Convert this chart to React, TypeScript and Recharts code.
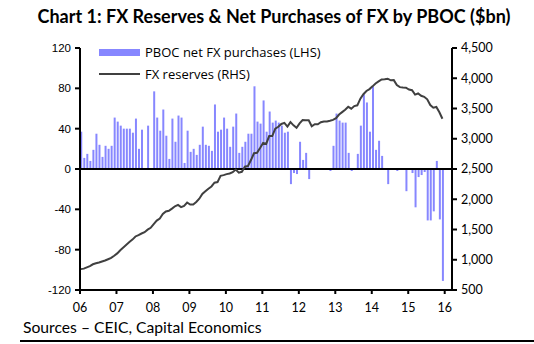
import {
  Bar,
  ComposedChart,
  Line,
  ReferenceLine,
  XAxis,
  YAxis,
} from 'recharts';

// x-axis year labels, one per January
const yearLabels = ['06', '07', '08', '09', '10', '11', '12', '13', '14', '15', '16'];

// PBOC net FX purchases, $bn, monthly Jan 2006 - Dec 2015 (LHS)
const netPurchases = [
  37, 11, 15, 8, 19, 35, 24, 12, 23, 20, 23, 51,
  47, 43, 40, 40, 40, 36, 50, 20, 39, 0, 43, 1,
  77, 51, 38, 59, 33, 10, 50, 27, 53, 51, 6, 38,
  17, 20, 14, 24, 42, 24, 23, 18, 64, 37, 39, 51,
  40, 22, 42, 55, 16, 22, 27, 35, 35, 82, 47, 45,
  68, 37, 57, 46, 48, 46, 43, 36, 37, -15, -4, -5,
  27, 9, 16, -10, 0, 0, 0, 0, 0, 0, -2, 23,
  55, 48, 46, 46, 16, -2, 0, 15, 43, 74, 66, 37,
  82, 19, 28, 13, 0, -15, 0, 0, -2, 0, 0, -22,
  0, -4, -38, -8, -6, -3, -51, -51, -42, 8, -50, -111,
];

// FX reserves, $bn, monthly Jan 2006 - Dec 2015 (RHS)
const fxReserves = [
  845, 853, 875, 895, 925, 941, 954, 972, 988, 1009, 1030, 1066,
  1105, 1158, 1202, 1246, 1292, 1333, 1385, 1408, 1434, 1455, 1497, 1528,
  1590, 1647, 1682, 1756, 1797, 1809, 1845, 1884, 1906, 1870, 1890, 1946,
  1913, 1912, 1954, 2009, 2089, 2132, 2175, 2211, 2273, 2284, 2388, 2399,
  2415, 2425, 2447, 2490, 2440, 2454, 2538, 2548, 2648, 2760, 2768, 2847,
  2931, 2914, 3045, 3044, 3166, 3198, 3245, 3262, 3202, 3274, 3221, 3181,
  3254, 3309, 3305, 3305, 3206, 3240, 3240, 3273, 3285, 3287, 3297, 3312,
  3340, 3400, 3440, 3480, 3530, 3497, 3540, 3553, 3663, 3736, 3789, 3821,
  3866, 3914, 3948, 3981, 3984, 3993, 3966, 3969, 3887, 3853, 3847, 3843,
  3813, 3802, 3730, 3748, 3711, 3694, 3651, 3557, 3514, 3525, 3438, 3330,
];

const leftTicks = [-120, -80, -40, 0, 40, 80, 120];
const rightTicks = [500, 1000, 1500, 2000, 2500, 3000, 3500, 4000, 4500];

const BAR_COLOR = '#8787FF';
const LINE_COLOR = '#404040';
const HUMANIST = 'Lato, "Open Sans", sans-serif';
const LEGEND_FONT = '"Open Sans", Lato, sans-serif';

const data = netPurchases.map((v, i) => ({
  x: i + 0.25,
  purchases: v,
  reserves: fxReserves[i],
}));

export default function App() {
  return (
    <div
      style={{
        position: 'absolute',
        left: 0,
        top: 0,
        width: 534,
        height: 344,
        background: '#fff',
        fontFamily: HUMANIST,
        color: '#000',
      }}
    >
      <div
        style={{
          position: 'absolute',
          left: 0,
          width: 548,
          top: 5,
          textAlign: 'center',
          fontWeight: 700,
          fontSize: 18,
          whiteSpace: 'nowrap',
        }}
      >
        Chart 1: FX Reserves &amp; Net Purchases of FX by PBOC ($bn)
      </div>

      <ComposedChart
        width={534}
        height={344}
        data={data}
        margin={{ top: 48, right: 22, bottom: 24, left: 30 }}
        style={{ position: 'absolute', left: 0, top: 0 }}
      >
        <XAxis
          dataKey="x"
          type="number"
          domain={[0, 122.4]}
          ticks={yearLabels.map((_, i) => i * 12)}
          tickFormatter={(v) => yearLabels[Math.round(v / 12)]}
          axisLine={{ stroke: '#000', strokeWidth: 2 }}
          tickLine={{ stroke: '#000', strokeWidth: 2 }}
          tickSize={4}
          tickMargin={9}
          height={30}
          tick={{ fill: '#000', fontSize: 12.5, fontFamily: HUMANIST }}
          interval={0}
        />
        <YAxis
          yAxisId="left"
          domain={[-120, 120]}
          ticks={leftTicks}
          width={50}
          axisLine={{ stroke: '#000', strokeWidth: 2 }}
          tickLine={{ stroke: '#000', strokeWidth: 2 }}
          tickSize={5}
          tickMargin={4}
          tick={{ fill: '#000', fontSize: 11.5, fontFamily: '"Liberation Sans", Arial, sans-serif' }}
          interval={0}
        />
        <YAxis
          yAxisId="right"
          orientation="right"
          domain={[500, 4500]}
          ticks={rightTicks}
          width={60}
          axisLine={{ stroke: '#000', strokeWidth: 2 }}
          tickLine={{ stroke: '#000', strokeWidth: 2 }}
          tickSize={5}
          tickMargin={4}
          tickFormatter={(v) => v.toLocaleString('en-US')}
          tick={{ fill: '#000', fontSize: 12.5, fontFamily: HUMANIST, textAnchor: 'start' }}
          interval={0}
        />
        <Bar
          yAxisId="left"
          dataKey="purchases"
          fill={BAR_COLOR}
          barSize={2}
          isAnimationActive={false}
        />
        <ReferenceLine yAxisId="left" y={0} stroke="#000" strokeWidth={2} />
        <Line
          yAxisId="right"
          dataKey="reserves"
          type="linear"
          stroke={LINE_COLOR}
          strokeWidth={2}
          dot={false}
          isAnimationActive={false}
        />
      </ComposedChart>

      {/* legend */}
      <div style={{ position: 'absolute', left: 99, top: 49, width: 41, height: 7, background: BAR_COLOR }} />
      <div style={{ position: 'absolute', left: 145, top: 44, fontSize: 13, lineHeight: '16px', fontFamily: LEGEND_FONT, whiteSpace: 'nowrap' }}>
        PBOC net FX purchases (LHS)
      </div>
      <div style={{ position: 'absolute', left: 99, top: 73, width: 41, height: 2, background: LINE_COLOR }} />
      <div style={{ position: 'absolute', left: 145, top: 66, fontSize: 13, lineHeight: '16px', fontFamily: LEGEND_FONT, whiteSpace: 'nowrap' }}>
        FX reserves (RHS)
      </div>

      <div
        style={{
          position: 'absolute',
          left: 23,
          top: 318,
          fontSize: 15.7,
          lineHeight: '18px',
          whiteSpace: 'nowrap',
        }}
      >
        Sources – CEIC, Capital Economics
      </div>
      <div style={{ position: 'absolute', left: 20, right: 0, top: 340, height: 2, background: '#000' }} />
    </div>
  );
}
